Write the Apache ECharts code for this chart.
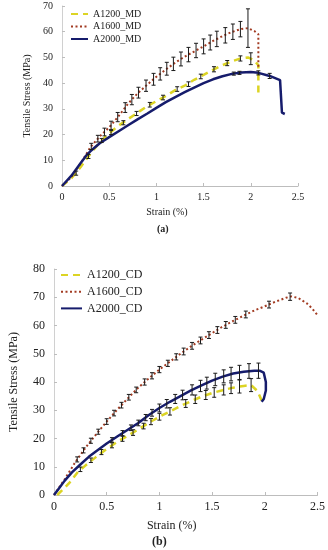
<!DOCTYPE html>
<html>
<head>
<meta charset="utf-8">
<script src="https://cdn.jsdelivr.net/npm/echarts@6/dist/echarts.min.js"></script>
<style>html,body{margin:0;padding:0;background:#fff}#c{width:328px;height:550px}</style>
</head>
<body>
<div id="c"></div>
<script>
// ---------- (a) MD ----------
var xTicksA = [0, 0.5, 1, 1.5, 2, 2.5];
var yTicksA = [0, 10, 20, 30, 40, 50, 60, 70];
var a1200MD_x = [0, 0.1, 0.2, 0.3, 0.4, 0.5, 0.6, 0.7, 0.8, 0.9, 1.0, 1.1, 1.2, 1.3, 1.4, 1.5, 1.6, 1.7, 1.8, 1.9, 1.97, 2.03, 2.08, 2.08];
var a1200MD_y = [0, 3, 7.5, 12.5, 17, 20.5, 23.5, 26, 28.5, 31, 33, 35, 37.3, 39, 41.3, 43.2, 45.2, 47, 48.5, 49.7, 50, 49, 47, 35];
var a1600MD_x = [0, 0.1, 0.2, 0.3, 0.4, 0.5, 0.6, 0.7, 0.8, 0.9, 1.0, 1.1, 1.2, 1.3, 1.4, 1.5, 1.6, 1.7, 1.8, 1.9, 1.97, 2.04, 2.08, 2.08];
var a1600MD_y = [0, 3.5, 9, 15, 19.3, 22.8, 27.2, 32, 36, 39.3, 42.5, 45.3, 48, 50.3, 52.3, 54.3, 56.4, 58.3, 59.9, 61.1, 61.4, 60.2, 59, 46];
var a2000MD_x = [0, 0.1, 0.2, 0.26, 0.3, 0.4, 0.5, 0.6, 0.7, 0.8, 0.9, 1.0, 1.1, 1.2, 1.3, 1.4, 1.5, 1.6, 1.7, 1.8, 1.9, 2.0, 2.08, 2.2, 2.31, 2.33, 2.36];
var a2000MD_y = [0, 4, 9, 12, 13.5, 16.6, 19, 21.3, 23.6, 25.9, 28.1, 30.4, 32.6, 34.6, 36.5, 38.3, 40, 41.5, 42.7, 43.6, 44.1, 44.3, 44, 42.8, 41.2, 28.5, 28];
// error bars (a)
var e1200MD_x = [0.15, 0.28, 0.42, 0.52, 0.65, 0.79, 0.93, 1.07, 1.22, 1.34, 1.47, 1.61, 1.75, 1.89, 2.0];
var e1200MD_y = [5, 11.5, 17.7, 20.8, 24.6, 28.2, 31.6, 34.4, 37.7, 39.6, 42.6, 45.4, 47.8, 49.6, 49.5];
var e1200MD_e = [0.8, 0.8, 0.8, 0.8, 0.8, 0.8, 0.9, 0.9, 0.9, 0.9, 0.9, 1.0, 1.0, 1.0, 2.3];
var e1600MD_x = [0.31, 0.38, 0.45, 0.52, 0.59, 0.67, 0.74, 0.81, 0.89, 0.97, 1.04, 1.11, 1.18, 1.26, 1.34, 1.42, 1.5, 1.57, 1.64, 1.73, 1.81, 1.89, 1.97];
var e1600MD_y = [15.4, 18.4, 21.0, 23.6, 26.8, 30.5, 33.6, 36.3, 39.0, 41.5, 43.6, 45.6, 47.5, 49.4, 51.1, 52.7, 54.3, 55.8, 57.2, 58.6, 60.0, 61.0, 61.4];
var e1600MD_e = [1.2, 1.3, 1.5, 1.6, 1.8, 1.9, 2.0, 2.1, 2.2, 2.3, 2.4, 2.5, 2.6, 2.7, 2.8, 2.8, 2.9, 2.9, 3.0, 3.0, 3.0, 3.0, 7.5];
var e2000MD_x = [1.82, 1.88, 2.08, 2.2];
var e2000MD_y = [43.7, 44.0, 44.0, 42.8];
var e2000MD_e = [0.6, 0.6, 0.8, 1.0];

// ---------- (b) CD ----------
var xTicksB = [0, 0.5, 1, 1.5, 2, 2.5];
var yTicksB = [0, 10, 20, 30, 40, 50, 60, 70, 80];
var a1200CD_x = [0.03, 0.1, 0.15, 0.23, 0.3, 0.4, 0.5, 0.6, 0.7, 0.8, 0.9, 1.0, 1.1, 1.2, 1.3, 1.4, 1.5, 1.6, 1.7, 1.8, 1.87, 1.93, 1.97];
var a1200CD_y = [0, 2.5, 4.5, 8.3, 10.5, 13.5, 16.3, 18.8, 21, 23.2, 25.6, 27.7, 29.6, 31.5, 33.2, 34.8, 36.1, 37.1, 38, 38.6, 38.9, 36.8, 33.5];
var a1600CD_x = [0, 0.1, 0.2, 0.3, 0.4, 0.5, 0.6, 0.7, 0.8, 0.9, 1.0, 1.1, 1.2, 1.3, 1.4, 1.5, 1.6, 1.7, 1.8, 1.9, 2.0, 2.1, 2.2, 2.25, 2.32, 2.4, 2.45, 2.5];
var a1600CD_y = [0, 5.5, 11.5, 16.8, 21.5, 26, 30.2, 34.2, 38, 41.3, 44.4, 47.2, 50, 52.6, 55, 57.3, 59.6, 61.6, 63.5, 65.3, 66.8, 68.4, 69.8, 70.3, 69.7, 67.8, 66, 63.7];
var a2000CD_x = [0, 0.05, 0.1, 0.17, 0.25, 0.33, 0.4, 0.5, 0.6, 0.7, 0.8, 0.9, 1.0, 1.1, 1.2, 1.3, 1.4, 1.5, 1.6, 1.7, 1.8, 1.9, 1.95, 1.99, 2.01, 2.01, 1.99, 1.97];
var a2000CD_y = [0, 2.5, 5, 8, 10.8, 13.5, 15.5, 18.2, 20.7, 23.1, 25.5, 28.3, 30.8, 33, 35, 37, 38.8, 40.5, 41.9, 43, 43.6, 44, 44, 43.3, 40, 37, 34, 33];
// error bars (b)
var e1200CD_x = [0.25, 0.35, 0.45, 0.55, 0.65, 0.75, 0.85, 0.92, 1.0, 1.1, 1.25, 1.34, 1.44, 1.52, 1.61, 1.68, 1.76, 1.87];
var e1200CD_y = [9.1, 12.3, 15.2, 17.6, 19.9, 22.1, 24.4, 26.0, 27.7, 29.6, 32.4, 33.9, 35.4, 36.3, 37.2, 37.8, 38.4, 38.9];
var e1200CD_e = [0.8, 0.8, 0.9, 0.9, 0.9, 1.0, 1.0, 1.1, 1.2, 1.3, 1.4, 1.5, 1.6, 1.7, 1.8, 1.9, 2.3, 2.3];
var e1600CD_x = [0.22, 0.28, 0.35, 0.42, 0.5, 0.57, 0.64, 0.71, 0.78, 0.86, 0.93, 1.0, 1.08, 1.16, 1.23, 1.31, 1.39, 1.47, 1.55, 1.63, 1.72, 1.82, 2.04, 2.24];
var e1600CD_y = [12.6, 15.8, 19.2, 22.4, 26, 29.0, 31.8, 34.6, 37.2, 40.0, 42.2, 44.4, 46.6, 48.9, 50.8, 52.8, 54.7, 56.6, 58.4, 60.2, 62.0, 63.9, 67.4, 70.2];
var e1600CD_e = [0.9, 0.9, 0.9, 0.9, 1.0, 1.0, 1.0, 1.0, 1.0, 1.1, 1.1, 1.1, 1.1, 1.1, 1.2, 1.2, 1.2, 1.2, 1.2, 1.2, 1.2, 1.2, 1.2, 1.3];
var e2000CD_x = [0.55, 0.65, 0.73, 0.8, 0.87, 0.93, 1.0, 1.07, 1.15, 1.22, 1.31, 1.39, 1.45, 1.53, 1.61, 1.68, 1.76, 1.85, 1.94];
var e2000CD_y = [19.5, 21.9, 23.8, 25.5, 27.4, 29.1, 30.8, 32.3, 34.0, 35.4, 37.2, 38.6, 39.6, 40.9, 42.0, 42.8, 43.4, 43.9, 44.0];
var e2000CD_e = [0.8, 0.9, 1.0, 1.0, 1.1, 1.2, 1.4, 1.5, 1.6, 1.7, 1.8, 2.0, 2.1, 2.2, 2.3, 2.4, 2.5, 2.6, 2.7];

function zip2(a, b) { return a.map(function (v, i) { return [v, b[i]]; }); }
function zip3(a, b, c) { return a.map(function (v, i) { return [v, b[i], c[i]]; }); }

var YEL = '#dcd424', RED = '#a23b22', NAVY = '#161c6c';
var FONT = 'Liberation Serif';

function errRender(params, api) {
  var x = api.value(0), y = api.value(1), e = api.value(2);
  var t = api.coord([x, y + e]), b = api.coord([x, y - e]);
  var w = 2;
  var st = { stroke: '#1a1a1a', lineWidth: 1 };
  return { type: 'group', children: [
    { type: 'line', shape: { x1: t[0], y1: t[1], x2: b[0], y2: b[1] }, style: st },
    { type: 'line', shape: { x1: t[0] - w, y1: t[1], x2: t[0] + w, y2: t[1] }, style: st },
    { type: 'line', shape: { x1: b[0] - w, y1: b[1], x2: b[0] + w, y2: b[1] }, style: st }
  ] };
}
function errSeries(xs, ys, es, gi) {
  return { type: 'custom', xAxisIndex: gi, yAxisIndex: gi, renderItem: errRender, data: zip3(xs, ys, es), z: 5, silent: true };
}
function lineSeries(name, xs, ys, gi, color, type, width) {
  return { name: name, type: 'line', xAxisIndex: gi, yAxisIndex: gi, data: zip2(xs, ys), symbol: 'none', smooth: false,
    legendIcon: 'path://M0,0L1,0',
    lineStyle: { color: color, type: type, width: width }, itemStyle: { color: color }, z: 3 };
}
function xAxis(gi, ticks, fs, gap, padR) {
  return { type: 'value', gridIndex: gi, min: ticks[0], max: ticks[ticks.length - 1], interval: 0.5,
    name: 'Strain (%)', nameLocation: 'middle', nameGap: gap,
    nameTextStyle: { fontFamily: FONT, fontSize: fs, color: '#222', padding: [0, padR, 0, 0] },
    axisLine: { show: true, lineStyle: { color: '#bdbdbd', width: 1 } },
    axisTick: { show: true, inside: true, length: 3, lineStyle: { color: '#bdbdbd' } },
    splitLine: { show: false },
    axisLabel: { fontFamily: FONT, fontSize: fs, color: '#222', margin: 6 } };
}
function yAxis(gi, ticks, fs, gap) {
  return { type: 'value', gridIndex: gi, min: ticks[0], max: ticks[ticks.length - 1], interval: 10,
    name: 'Tensile Stress (MPa)', nameLocation: 'middle', nameGap: gap,
    nameTextStyle: { fontFamily: FONT, fontSize: fs, color: '#222' },
    axisLine: { show: true, lineStyle: { color: '#d0d0d0', width: 1 } },
    axisTick: { show: true, inside: true, length: 3, lineStyle: { color: '#bdbdbd' } },
    splitLine: { show: false },
    axisLabel: { fontFamily: FONT, fontSize: fs, color: '#222', margin: 9 } };
}

var chart = echarts.init(document.getElementById('c'), null, { renderer: 'canvas' });
chart.setOption({
  animation: false,
  backgroundColor: '#fff',
  grid: [
    { left: 62, top: 6, width: 236, height: 180 },
    { left: 48, top: 269, width: 270, height: 226 }
  ],
  xAxis: [xAxis(0, xTicksA, 10, 21, 26), xAxis(1, xTicksB, 12, 25, 28)],
  yAxis: [yAxis(0, yTicksA, 10, 24), yAxis(1, yTicksB, 12, 34)],
  legend: [
    { data: ['A1200_MD', 'A1600_MD', 'A2000_MD'], orient: 'vertical', left: 70, top: 8, padding: 0, itemWidth: 17, itemHeight: 12, itemGap: 0.5,
      itemStyle: { opacity: 0 },
      textStyle: { fontFamily: FONT, fontSize: 10, color: '#222', lineHeight: 12 } },
    { data: ['A1200_CD', 'A1600_CD', 'A2000_CD'], orient: 'vertical', left: 60, top: 268, padding: 0, itemWidth: 21, itemHeight: 14, itemGap: 2.7,
      itemStyle: { opacity: 0 },
      textStyle: { fontFamily: FONT, fontSize: 12, color: '#222', lineHeight: 14 } }
  ],
  graphic: [
    { type: 'text', left: 157, top: 224, style: { text: '(a)', font: 'bold 10px "Liberation Serif"', fill: '#222' } },
    { type: 'text', left: 152, top: 536, style: { text: '(b)', font: 'bold 12px "Liberation Serif"', fill: '#222' } }
  ],
  series: [
    lineSeries('A1200_MD', a1200MD_x, a1200MD_y, 0, YEL, [7, 5], 2.5),
    lineSeries('A1600_MD', a1600MD_x, a1600MD_y, 0, RED, [2, 2.5], 2),
    lineSeries('A2000_MD', a2000MD_x, a2000MD_y, 0, NAVY, 'solid', 2.5),
    errSeries(e1200MD_x, e1200MD_y, e1200MD_e, 0),
    errSeries(e1600MD_x, e1600MD_y, e1600MD_e, 0),
    errSeries(e2000MD_x, e2000MD_y, e2000MD_e, 0),
    lineSeries('A1200_CD', a1200CD_x, a1200CD_y, 1, YEL, [7, 5], 2.5),
    lineSeries('A1600_CD', a1600CD_x, a1600CD_y, 1, RED, [2, 2.5], 2),
    lineSeries('A2000_CD', a2000CD_x, a2000CD_y, 1, NAVY, 'solid', 2.5),
    errSeries(e1200CD_x, e1200CD_y, e1200CD_e, 1),
    errSeries(e1600CD_x, e1600CD_y, e1600CD_e, 1),
    errSeries(e2000CD_x, e2000CD_y, e2000CD_e, 1)
  ]
});
</script>
</body>
</html>
